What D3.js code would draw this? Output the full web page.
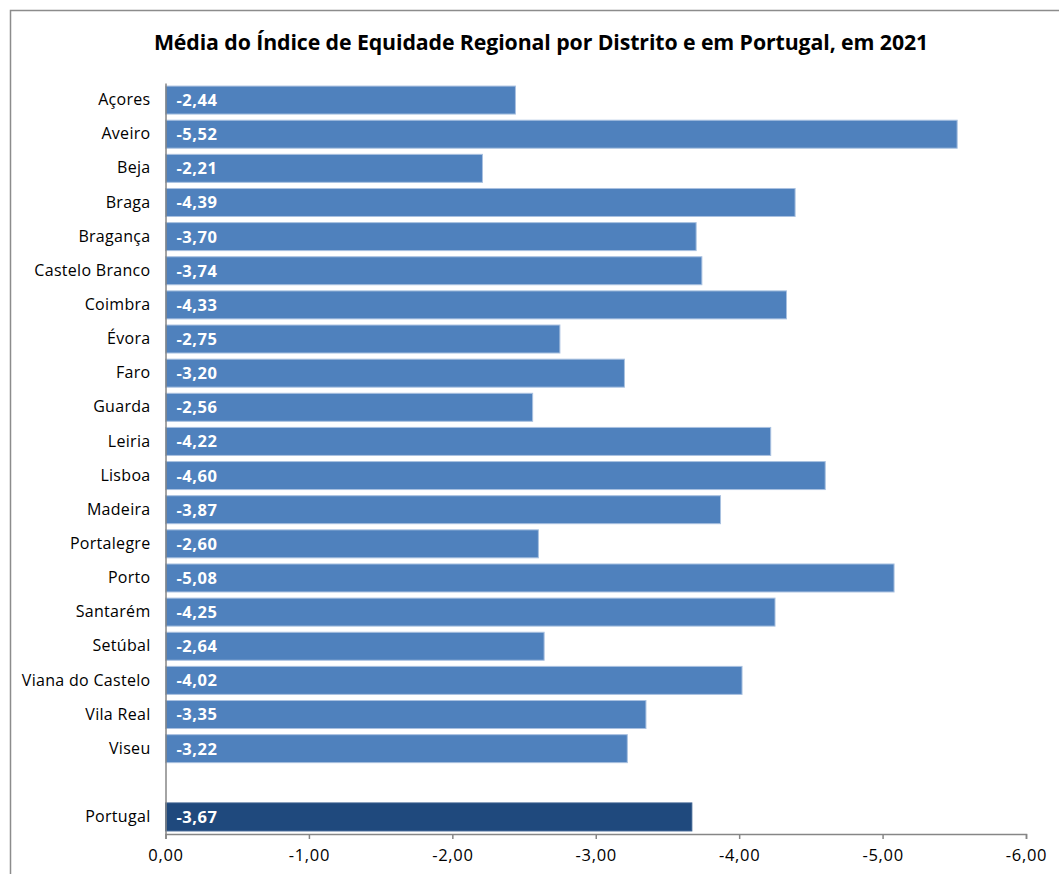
<!DOCTYPE html>
<html>
<head>
<meta charset="utf-8">
<script src="https://cdn.jsdelivr.net/npm/d3@7"></script>
<style>
  body { margin: 0; background: #fff; }
  text { font-family: "Open Sans", sans-serif; }
</style>
</head>
<body>
<div id="grafica"></div>
<script>
// Datos
var distritos = ["Açores", "Aveiro", "Beja", "Braga", "Bragança", "Castelo Branco", "Coimbra", "Évora",
  "Faro", "Guarda", "Leiria", "Lisboa", "Madeira", "Portalegre", "Porto", "Santarém", "Setúbal",
  "Viana do Castelo", "Vila Real", "Viseu", "", "Portugal"];
var valores = [-2.44, -5.52, -2.21, -4.39, -3.70, -3.74, -4.33, -2.75, -3.20, -2.56, -4.22, -4.60,
  -3.87, -2.60, -5.08, -4.25, -2.64, -4.02, -3.35, -3.22, null, -3.67];
var ticksX = [0, -1, -2, -3, -4, -5, -6];

var data = distritos.map(function (d, i) { return { nome: d, valor: valores[i], slot: "s" + i }; });

var W = 1059, H = 874;
var svg = d3.select("#grafica").append("svg")
  .attr("width", W).attr("height", H);

// marco
svg.append("rect")
  .attr("x", 10.5).attr("y", 10.5)
  .attr("width", W + 20).attr("height", H + 20)
  .style("fill", "none").style("stroke", "#8c8c8c").style("stroke-width", 1.5);

// título
svg.append("text")
  .attr("x", 541).attr("y", 50)
  .attr("text-anchor", "middle")
  .style("font-size", "21.3px").style("font-weight", "bold")
  .style("letter-spacing", "-0.1px")
  .text("Média do Índice de Equidade Regional por Distrito e em Portugal, em 2021");

var x = d3.scaleLinear().domain([0, -6]).range([165.5, 1026]);
var y = d3.scaleBand().domain(data.map(d => d.slot)).range([83, 834]).paddingInner(0.18).paddingOuter(0.09);

var fmt = v => d3.format(".2f")(v).replace(".", ",").replace("−", "-");

// barras
svg.append("g").selectAll("rect")
  .data(data.filter(d => d.valor !== null))
  .enter().append("rect")
  .attr("x", x(0))
  .attr("y", d => y(d.slot))
  .attr("width", d => x(d.valor) - x(0))
  .attr("height", y.bandwidth())
  .style("fill", d => d.nome === "Portugal" ? "#1f497d" : "#4f81bd")
  .style("stroke", d => d.nome === "Portugal" ? "#3a5f8f" : "#a9c1e0")
  .style("stroke-width", 1);

// etiquetas de valor
svg.append("g").selectAll("text")
  .data(data.filter(d => d.valor !== null))
  .enter().append("text")
  .attr("x", x(0) + 11)
  .attr("y", d => y(d.slot) + y.bandwidth() / 2)
  .attr("dy", "0.36em")
  .style("fill", "white").style("font-weight", "bold").style("font-size", "16.5px")
  .style("letter-spacing", "0.5px")
  .text(d => fmt(d.valor));

// eje y
var ejeY = svg.append("g")
  .attr("transform", "translate(" + x(0) + ",0)")
  .call(d3.axisLeft(y).tickSize(0).tickPadding(15).tickFormat(s => data.find(d => d.slot === s).nome));
ejeY.select(".domain").style("stroke", "#868686").style("stroke-width", 1.5);
ejeY.selectAll("text").style("font-size", "16px").style("fill", "#000")
  .style("letter-spacing", "0.3px")
  .style("font-family", "'Open Sans', sans-serif");

// eje x
var ejeX = svg.append("g")
  .attr("transform", "translate(0,834)")
  .call(d3.axisBottom(x).tickValues(ticksX).tickSize(5).tickSizeOuter(5).tickPadding(10)
    .tickFormat(fmt));
ejeX.select(".domain").style("stroke", "#868686").style("stroke-width", 1.5);
ejeX.selectAll("line").style("stroke", "#868686").style("stroke-width", 1.5);
ejeX.selectAll("text").style("font-size", "16.5px").style("fill", "#000")
  .style("letter-spacing", "0.7px")
  .style("font-family", "'Open Sans', sans-serif");
</script>
</body>
</html>
